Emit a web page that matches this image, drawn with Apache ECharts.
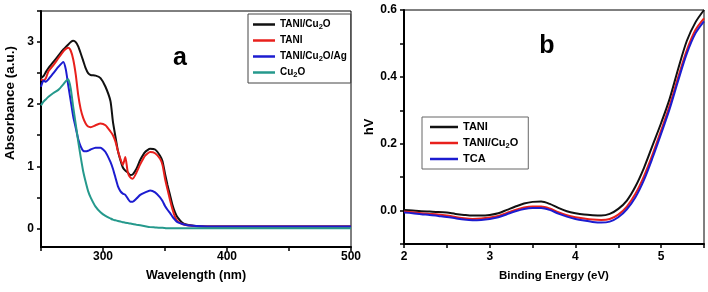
<!DOCTYPE html>
<html>
<head>
<meta charset="utf-8">
<script src="https://cdn.jsdelivr.net/npm/echarts@6/dist/echarts.min.js"></script>
<style>
  html, body { margin: 0; padding: 0; background: #fff; }
  #chart { width: 708px; height: 292px; }
</style>
</head>
<body>
<div id="chart"></div>
<script>
// panel a: UV-vis absorbance
const wavelength = [250, 252, 254, 256, 260, 264, 268, 270, 272, 274, 276, 278, 280, 282, 284, 286, 288, 290, 294, 298,
  302, 306, 308, 310, 312, 314, 316, 318, 320, 322, 324, 327, 330, 334, 338, 342, 346, 348, 350, 352,
  354, 356, 358, 360, 364, 368, 375, 390, 420, 460, 500]
const absTaniCu2o = [2.42, 2.45, 2.52, 2.58, 2.68, 2.78, 2.88, 2.92, 2.96, 3.00, 3.02, 3.00, 2.93, 2.82, 2.70, 2.58, 2.50, 2.47, 2.46, 2.42,
  2.28, 2.05, 1.72, 1.48, 1.25, 1.10, 0.98, 0.93, 0.90, 0.86, 0.87, 0.96, 1.10, 1.23, 1.28, 1.27, 1.17, 1.08, 0.88, 0.70,
  0.54, 0.38, 0.26, 0.18, 0.09, 0.06, 0.04, 0.03, 0.03, 0.03, 0.03]
const absTani = [2.40, 2.38, 2.42, 2.53, 2.63, 2.74, 2.85, 2.89, 2.91, 2.86, 2.72, 2.48, 2.15, 1.92, 1.78, 1.69, 1.64, 1.63, 1.66, 1.69,
  1.66, 1.56, 1.50, 1.40, 1.25, 1.12, 1.02, 1.15, 0.90, 0.82, 0.80, 0.90, 1.03, 1.17, 1.23, 1.21, 1.12, 1.02, 0.80, 0.63,
  0.46, 0.31, 0.19, 0.12, 0.07, 0.05, 0.035, 0.03, 0.03, 0.03, 0.03]
const absTaniCu2oAg = [2.28, 2.38, 2.36, 2.40, 2.50, 2.60, 2.68, 2.56, 2.30, 2.05, 1.80, 1.62, 1.44, 1.32, 1.25, 1.24, 1.25, 1.27, 1.30, 1.30,
  1.23, 1.07, 0.96, 0.82, 0.68, 0.60, 0.56, 0.54, 0.48, 0.43, 0.43, 0.48, 0.54, 0.58, 0.61, 0.58, 0.50, 0.44, 0.36, 0.30,
  0.25, 0.19, 0.14, 0.10, 0.07, 0.05, 0.04, 0.03, 0.03, 0.03, 0.03]
const absCu2o = [1.98, 2.04, 2.08, 2.12, 2.18, 2.23, 2.32, 2.37, 2.40, 2.25, 1.95, 1.68, 1.40, 1.15, 0.92, 0.75, 0.60, 0.50, 0.35, 0.26,
  0.20, 0.16, 0.14, 0.13, 0.12, 0.11, 0.10, 0.09, 0.085, 0.08, 0.07, 0.06, 0.05, 0.035, 0.02, 0.015, 0.01, 0.01, 0.005, 0.0,
  0.0, 0.0, 0.0, 0.0, 0.0, 0.0, 0.0, 0.0, 0.0, 0.0, 0.0]

// panel b: hV vs binding energy
const energy = [2.0, 2.1, 2.2, 2.3, 2.4, 2.5, 2.6, 2.7, 2.8, 2.9, 3.0, 3.1, 3.2, 3.3, 3.4, 3.5, 3.6, 3.7, 3.8, 3.9,
  4.0, 4.1, 4.2, 4.3, 4.4, 4.5, 4.6, 4.7, 4.8, 4.9, 5.0, 5.1, 5.2, 5.3, 5.4, 5.5]
const hvTani = [0.002, 0.000, -0.002, -0.003, -0.004, -0.006, -0.010, -0.013, -0.015, -0.015, -0.013, -0.008, 0.002, 0.012, 0.021, 0.026, 0.027, 0.020, 0.008, -0.002,
  -0.008, -0.012, -0.014, -0.015, -0.010, 0.005, 0.030, 0.072, 0.128, 0.195, 0.262, 0.335, 0.425, 0.508, 0.563, 0.600]
const hvTaniCu2o = [-0.003, -0.005, -0.008, -0.010, -0.012, -0.015, -0.019, -0.023, -0.025, -0.024, -0.021, -0.016, -0.007, 0.002, 0.009, 0.012, 0.012, 0.006, -0.005, -0.014,
  -0.020, -0.024, -0.027, -0.028, -0.025, -0.012, 0.012, 0.050, 0.103, 0.168, 0.240, 0.315, 0.400, 0.480, 0.540, 0.575]
const hvTca = [-0.006, -0.008, -0.011, -0.013, -0.016, -0.019, -0.023, -0.027, -0.029, -0.028, -0.025, -0.020, -0.011, -0.002, 0.005, 0.008, 0.008, 0.002, -0.009, -0.018,
  -0.025, -0.030, -0.034, -0.036, -0.033, -0.020, 0.004, 0.040, 0.092, 0.158, 0.230, 0.305, 0.390, 0.470, 0.530, 0.566]

const namesA = ['TANI/Cu2O', 'TANI', 'TANI/Cu2O/Ag', 'Cu2O']
const namesB = ['TANI ', 'TANI/Cu2O ', 'TCA']
const colorsA = ['#111111', '#e8201c', '#1c1cd0', '#25998c']
const colorsB = ['#111111', '#e8201c', '#1c1cd0']

const font = 'Liberation Sans, Arial, sans-serif'

// Cu2O -> Cu{s|2}O for the subscript
const subName = (name) => name.trim().replace(/Cu2O/g, 'Cu{s|2}O')

const pairs = (xs, ys) => xs.map((x, i) => [x, ys[i]])

const tickStyle = { show: true, length: 4, lineStyle: { color: '#000', width: 1.5 } }
const axisLineStyle = { show: true, onZero: false, lineStyle: { color: '#000', width: 2 } }
const labelStyle = { color: '#000', fontSize: 12, fontWeight: 'bold', fontFamily: font }

const seriesA = [absTaniCu2o, absTani, absTaniCu2oAg, absCu2o].map((ys, i) => ({
  name: namesA[i],
  type: 'line',
  xAxisIndex: 0,
  yAxisIndex: 0,
  showSymbol: false,
  symbol: 'none',
  smooth: 0.2,
  lineStyle: { color: colorsA[i], width: 2 },
  itemStyle: { color: colorsA[i] },
  data: pairs(wavelength, ys)
}))

const seriesB = [hvTani, hvTaniCu2o, hvTca].map((ys, i) => ({
  name: namesB[i],
  type: 'line',
  xAxisIndex: 1,
  yAxisIndex: 1,
  showSymbol: false,
  symbol: 'none',
  smooth: 0.3,
  lineStyle: { color: colorsB[i], width: 2 },
  itemStyle: { color: colorsB[i] },
  data: pairs(energy, ys)
}))

const option = {
  backgroundColor: '#fff',
  animation: false,
  grid: [{
    left: 41,
    top: 11,
    width: 310,
    height: 236,
    show: true,
    borderColor: '#000',
    borderWidth: 1
  }, {
    left: 404,
    top: 10,
    width: 300,
    height: 234,
    show: true,
    borderColor: '#000',
    borderWidth: 1
  }],
  xAxis: [{
    gridIndex: 0,
    type: 'value',
    min: 250,
    max: 500,
    name: 'Wavelength (nm)',
    nameLocation: 'middle',
    nameGap: 22,
    nameTextStyle: { color: '#000', fontSize: 12.5, fontWeight: 'bold', fontFamily: font },
    axisLine: axisLineStyle,
    axisTick: Object.assign({ customValues: [250, 300, 350, 400, 450, 500] }, tickStyle),
    axisLabel: Object.assign({ customValues: [300, 400, 500], margin: 4 }, labelStyle),
    splitLine: { show: false }
  }, {
    gridIndex: 1,
    type: 'value',
    min: 2,
    max: 5.5,
    name: 'Binding Energy (eV)',
    nameLocation: 'middle',
    nameGap: 26,
    nameTextStyle: { color: '#000', fontSize: 11.5, fontWeight: 'bold', fontFamily: font },
    axisLine: axisLineStyle,
    axisTick: Object.assign({ customValues: [2, 2.5, 3, 3.5, 4, 4.5, 5, 5.5] }, tickStyle),
    axisLabel: Object.assign({ customValues: [2, 3, 4, 5], margin: 7 }, labelStyle),
    splitLine: { show: false }
  }],
  yAxis: [{
    gridIndex: 0,
    type: 'value',
    min: -0.3,
    max: 3.5,
    axisLine: axisLineStyle,
    axisTick: Object.assign({ customValues: [0, 0.5, 1, 1.5, 2, 2.5, 3, 3.5] }, tickStyle),
    axisLabel: Object.assign({ customValues: [0, 1, 2, 3], margin: 7 }, labelStyle),
    splitLine: { show: false }
  }, {
    gridIndex: 1,
    type: 'value',
    min: -0.1,
    max: 0.6,
    name: 'hV',
    nameLocation: 'middle',
    nameGap: 28,
    nameTextStyle: { color: '#000', fontSize: 13, fontWeight: 'bold', fontFamily: font },
    axisLine: axisLineStyle,
    axisTick: Object.assign({ customValues: [-0.1, 0, 0.1, 0.2, 0.3, 0.4, 0.5, 0.6] }, tickStyle),
    axisLabel: Object.assign({
      customValues: [0, 0.2, 0.4, 0.6],
      margin: 7,
      formatter: (v) => v.toFixed(1)
    }, labelStyle),
    splitLine: { show: false }
  }],
  legend: [{
    data: namesA,
    orient: 'vertical',
    left: 248,
    top: 14,
    padding: [4, 4, 4, 5],
    itemGap: 3,
    itemWidth: 22,
    itemHeight: 2.5,
    icon: 'rect',
    borderColor: '#444',
    borderWidth: 1,
    selectedMode: false,
    formatter: subName,
    textStyle: {
      color: '#000',
      fontSize: 10,
      fontWeight: 'bold',
      fontFamily: font,
      lineHeight: 13,
      rich: {
        s: { fontSize: 7.5, fontWeight: 'bold', fontFamily: font, color: '#000', verticalAlign: 'bottom', lineHeight: 6 }
      }
    }
  }, {
    data: namesB,
    orient: 'vertical',
    left: 422,
    top: 117,
    padding: [3, 10, 3, 8],
    itemGap: 2,
    itemWidth: 28,
    itemHeight: 2.5,
    icon: 'rect',
    borderColor: '#666',
    borderWidth: 1,
    selectedMode: false,
    formatter: subName,
    textStyle: {
      color: '#000',
      fontSize: 11,
      fontWeight: 'bold',
      fontFamily: font,
      lineHeight: 14,
      rich: {
        s: { fontSize: 7.5, fontWeight: 'bold', fontFamily: font, color: '#000', verticalAlign: 'bottom', lineHeight: 6 }
      }
    }
  }],
  graphic: [{
    type: 'text',
    x: 10,
    y: 103,
    rotation: Math.PI / 2,
    style: {
      text: 'Absorbance (a.u.)',
      fill: '#000',
      font: 'bold 13.5px ' + font,
      textAlign: 'center',
      textVerticalAlign: 'middle'
    }
  }, {
    type: 'text',
    x: 180,
    y: 58,
    style: {
      text: 'a',
      fill: '#000',
      font: 'bold 25px ' + font,
      textAlign: 'center',
      textVerticalAlign: 'middle'
    }
  }, {
    type: 'text',
    x: 547,
    y: 46,
    style: {
      text: 'b',
      fill: '#000',
      font: 'bold 25px ' + font,
      textAlign: 'center',
      textVerticalAlign: 'middle'
    }
  }],
  series: seriesA.concat(seriesB)
}

const chart = echarts.init(document.getElementById('chart'), null, { renderer: 'canvas' })
chart.setOption(option)
</script>
</body>
</html>
